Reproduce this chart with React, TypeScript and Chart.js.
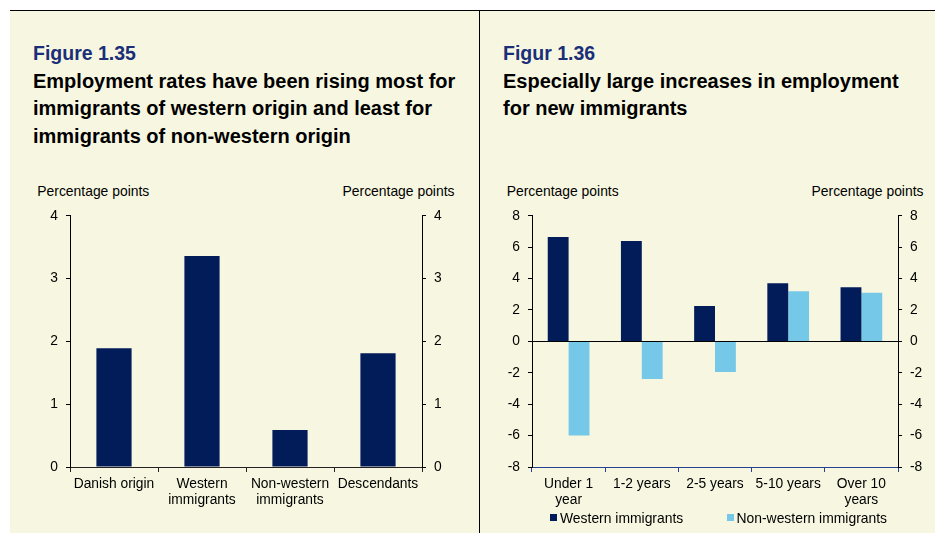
import React, { useEffect, useRef } from 'react';
import { Chart, registerables } from 'chart.js';

Chart.register(...registerables);

const FONT = "'Liberation Sans', Arial, Helvetica, sans-serif";

// ---- Data: Figure 1.35 ----
const originCategories = [['Danish origin'], ['Western', 'immigrants'], ['Non-western', 'immigrants'], ['Descendants']];
const originValues = [1.89, 3.36, 0.59, 1.81];
const originAxisMin = 0;
const originAxisMax = 4;
const originAxisStep = 1;

// ---- Data: Figure 1.36 ----
const durationCategories = [['Under 1', 'year'], ['1-2 years'], ['2-5 years'], ['5-10 years'], ['Over 10', 'years']];
const seriesNames = ['Western immigrants', 'Non-western immigrants'];
const westernValues = [6.65, 6.4, 2.25, 3.7, 3.45];
const nonWesternValues = [-6.0, -2.4, -1.95, 3.2, 3.1];
const durationAxisMin = -8;
const durationAxisMax = 8;
const durationAxisStep = 2;

// ---- Text ----
const leftFigureNo = 'Figure 1.35';
const leftTitleLines = [
  'Employment rates have been rising most for',
  'immigrants of western origin and least for',
  'immigrants of non-western origin',
];
const rightFigureNo = 'Figur 1.36';
const rightTitleLines = ['Especially large increases in employment', 'for new immigrants'];
const unitLabel = 'Percentage points';

// ---- Styles ----
const NAVY = '#021C5A';
const LIGHT = '#76C8E8';
const CREAM = '#F7F7E1';
const TITLE_BLUE = '#1A2F78';
const TICK_FONT = { family: FONT, size: 13.8, lineHeight: 1.13 };

function yAxis(position: string, width: number, min: number, max: number, step: number, zeroLine: boolean) {
  return {
    type: 'linear',
    position,
    min,
    max,
    afterFit: (s: any) => {
      s.width = width;
    },
    ticks: { stepSize: step, padding: 8, color: '#000', font: TICK_FONT },
    grid: {
      drawOnChartArea: zeroLine,
      drawTicks: true,
      tickLength: 4,
      tickColor: '#000',
      color: (ctx: any) => (zeroLine && ctx.tick && ctx.tick.value === 0 ? '#000' : 'rgba(0,0,0,0)'),
      lineWidth: 1,
    },
    border: { display: true, color: '#000', width: 1 },
  };
}

function xAxis(height: number, color: string) {
  return {
    type: 'category',
    position: 'bottom',
    afterFit: (s: any) => {
      s.height = height;
    },
    ticks: { padding: 4.5, color: '#000', font: TICK_FONT, maxRotation: 0, autoSkip: false },
    grid: { drawOnChartArea: false, drawTicks: true, tickLength: 5, color, tickColor: color, offset: true },
    border: { display: true, color, width: 1 },
  };
}

function leftConfig(): any {
  return {
    type: 'bar',
    data: {
      labels: originCategories,
      datasets: [
        {
          label: 'Change in employment rate',
          data: originValues,
          backgroundColor: NAVY,
          categoryPercentage: 0.4,
          barPercentage: 1,
        },
      ],
    },
    options: {
      responsive: false,
      animation: false,
      devicePixelRatio: 1,
      layout: { padding: { top: 15, left: 0, right: 0, bottom: 0 } },
      plugins: { legend: { display: false }, tooltip: { enabled: false } },
      scales: {
        x: xAxis(66, '#222'),
        y: yAxis('left', 60, originAxisMin, originAxisMax, originAxisStep, false),
        y2: yAxis('right', 57, originAxisMin, originAxisMax, originAxisStep, false),
      },
    },
  };
}

function rightConfig(): any {
  return {
    type: 'bar',
    data: {
      labels: durationCategories,
      datasets: [
        { label: seriesNames[0], data: westernValues, backgroundColor: NAVY, categoryPercentage: 0.57, barPercentage: 1 },
        { label: seriesNames[1], data: nonWesternValues, backgroundColor: LIGHT, categoryPercentage: 0.57, barPercentage: 1 },
      ],
    },
    options: {
      responsive: false,
      animation: false,
      devicePixelRatio: 1,
      layout: { padding: { top: 15, left: 0, right: 0, bottom: 0 } },
      plugins: { legend: { display: false }, tooltip: { enabled: false } },
      scales: {
        x: xAxis(66, '#24408E'),
        y: yAxis('left', 52, durationAxisMin, durationAxisMax, durationAxisStep, true),
        y2: yAxis('right', 37, durationAxisMin, durationAxisMax, durationAxisStep, false),
      },
    },
  };
}

function ChartCanvas(props: { left: number; top: number; width: number; height: number; make: () => any }) {
  const ref = useRef<HTMLCanvasElement>(null);
  useEffect(() => {
    const chart = new Chart(ref.current as HTMLCanvasElement, props.make());
    return () => chart.destroy();
  }, []);
  return (
    <canvas
      ref={ref}
      width={props.width}
      height={props.height}
      style={{ position: 'absolute', left: props.left, top: props.top, width: props.width, height: props.height }}
    />
  );
}

const abs = (left: number, top: number, extra: any = {}) => ({ position: 'absolute' as const, left, top, ...extra });

function Titles(props: { left: number; figNo: string; lines: string[] }) {
  return (
    <>
      <div
        style={abs(props.left, 40, {
          fontFamily: FONT,
          fontWeight: 'bold',
          fontSize: 19.5,
          lineHeight: '27px',
          color: TITLE_BLUE,
          whiteSpace: 'nowrap',
        })}
      >
        {props.figNo}
      </div>
      <div
        style={abs(props.left, 67.5, {
          fontFamily: FONT,
          fontWeight: 'bold',
          fontSize: 20,
          lineHeight: '27.5px',
          color: '#000',
          whiteSpace: 'nowrap',
        })}
      >
        {props.lines.map((l, i) => (
          <div key={i}>{l}</div>
        ))}
      </div>
    </>
  );
}

function Unit(props: { left: number; width: number; align: 'left' | 'right' }) {
  return (
    <div
      style={abs(props.left, 182.8, {
        width: props.width,
        textAlign: props.align,
        fontFamily: FONT,
        fontSize: 13.9,
        lineHeight: '16px',
        color: '#000',
        whiteSpace: 'nowrap',
      })}
    >
      {unitLabel}
    </div>
  );
}

function LegendItem(props: { left: number; color: string; text: string }) {
  return (
    <>
      <div style={abs(props.left, 514, { width: 7, height: 7, background: props.color })} />
      <div
        style={abs(props.left + 10, 509.8, {
          fontFamily: FONT,
          fontSize: 13.9,
          lineHeight: '16px',
          color: '#000',
          whiteSpace: 'nowrap',
        })}
      >
        {props.text}
      </div>
    </>
  );
}

export default function App() {
  return (
    <div style={abs(0, 0, { width: 935, height: 533, background: '#fff', overflow: 'hidden' })}>
      <div style={abs(10, 10, { width: 925, height: 523, background: CREAM })} />
      <div style={abs(10, 10, { width: 925, height: 1, background: '#000' })} />
      <div style={abs(479, 10, { width: 1, height: 523, background: '#000' })} />

      <Titles left={33} figNo={leftFigureNo} lines={leftTitleLines} />
      <Titles left={503} figNo={rightFigureNo} lines={rightTitleLines} />

      <Unit left={37.3} width={200} align="left" />
      <Unit left={254.5} width={200} align="right" />
      <Unit left={506.7} width={200} align="left" />
      <Unit left={723.5} width={200} align="right" />

      <ChartCanvas left={10} top={200} width={469} height={333} make={leftConfig} />
      <ChartCanvas left={480} top={200} width={455} height={333} make={rightConfig} />

      <LegendItem left={550} color={NAVY} text={seriesNames[0]} />
      <LegendItem left={726.5} color={LIGHT} text={seriesNames[1]} />
    </div>
  );
}
